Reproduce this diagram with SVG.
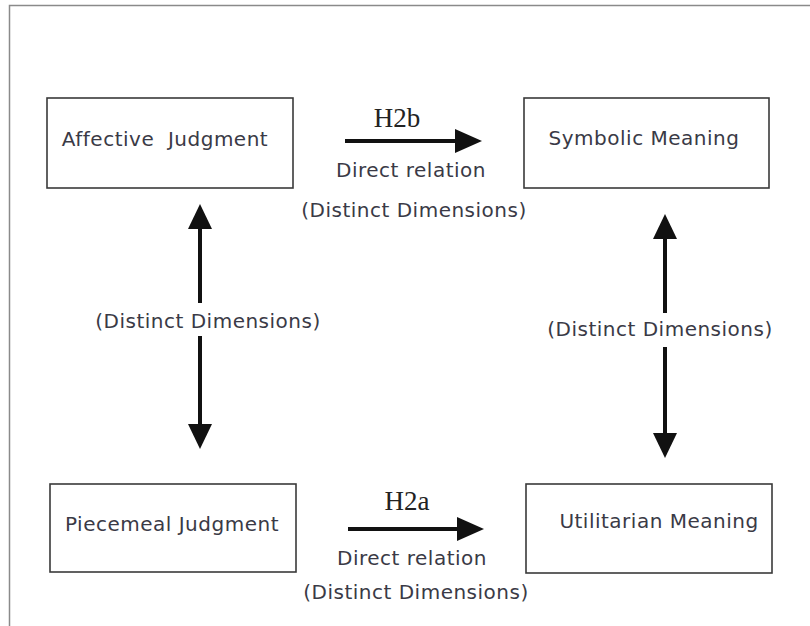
<svg xmlns="http://www.w3.org/2000/svg" width="810" height="626" viewBox="0 0 810 626">
<style>
.box{fill:#fff;stroke:#3a3a3a;stroke-width:1.6}
.lbl{font-family:"DejaVu Sans",Verdana,sans-serif;font-size:20px;letter-spacing:0.5px;fill:#3a3a46;text-anchor:middle}
.h{font-family:"Liberation Serif","Times New Roman",serif;font-size:27px;fill:#222;text-anchor:middle}
.ln{stroke:#111;stroke-width:4;fill:none}
.hd{fill:#111}
</style>
<rect width="810" height="626" fill="#fff"/>
<path d="M9.5 626 V5.5 H810" fill="none" stroke="#8a8a8a" stroke-width="1.5"/>
<g id="node-affective">
<rect class="box" x="47" y="98" width="246" height="90"/>
<text class="lbl" x="165" y="146" xml:space="preserve">Affective  Judgment</text>
</g>
<g id="node-symbolic">
<rect class="box" x="524" y="98" width="245" height="90"/>
<text class="lbl" x="644" y="145">Symbolic Meaning</text>
</g>
<g id="node-piecemeal">
<rect class="box" x="50" y="484" width="246" height="88"/>
<text class="lbl" x="172" y="531">Piecemeal Judgment</text>
</g>
<g id="node-utilitarian">
<rect class="box" x="526" y="484" width="246" height="89"/>
<text class="lbl" x="659" y="528">Utilitarian Meaning</text>
</g>
<g id="connectors">
<g id="h2b">
<line class="ln" x1="345" y1="141" x2="458" y2="141"/>
<polygon class="hd" points="455,129 482,141 455,153"/>
<text class="h" x="397" y="127">H2b</text>
<text class="lbl" x="411" y="177">Direct relation</text>
<text class="lbl" x="414" y="217">(Distinct Dimensions)</text>
</g>
<g id="h2a">
<line class="ln" x1="348" y1="529" x2="460" y2="529"/>
<polygon class="hd" points="457,517 484,529 457,541"/>
<text class="h" x="407" y="510">H2a</text>
<text class="lbl" x="412" y="565">Direct relation</text>
<text class="lbl" x="416" y="599">(Distinct Dimensions)</text>
</g>
<g id="left-vertical">
<line class="ln" x1="200" y1="226" x2="200" y2="303"/>
<line class="ln" x1="200" y1="336" x2="200" y2="426"/>
<polygon class="hd" points="188,229 200,204 212,229"/>
<polygon class="hd" points="188,424 200,449 212,424"/>
<text class="lbl" x="208" y="328">(Distinct Dimensions)</text>
</g>
<g id="right-vertical">
<line class="ln" x1="665" y1="236" x2="665" y2="313"/>
<line class="ln" x1="665" y1="347" x2="665" y2="436"/>
<polygon class="hd" points="653,239 665,214 677,239"/>
<polygon class="hd" points="653,433 665,458 677,433"/>
<text class="lbl" x="660" y="336">(Distinct Dimensions)</text>
</g>
</g>
</svg>
